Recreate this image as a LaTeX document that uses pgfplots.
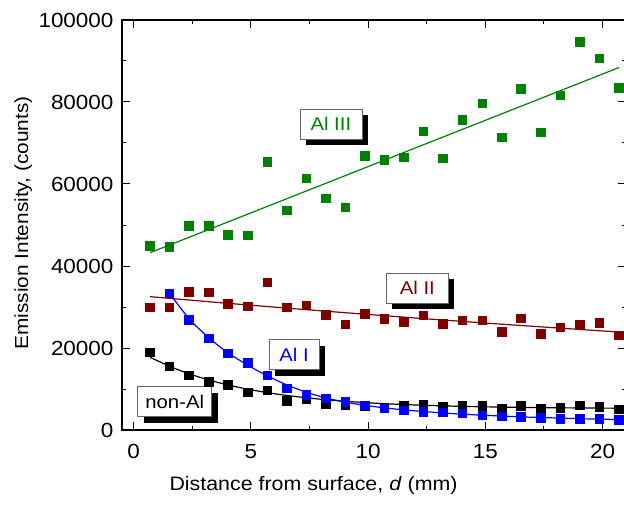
\documentclass[border=0pt]{standalone}
\usepackage{pgfplots}
\pgfplotsset{compat=1.18}
\usepackage{pgfplotstable}
\usepackage{fontspec}
\setmainfont{Liberation Sans}[FakeStretch=1.1]
\usetikzlibrary{shadows}

\definecolor{cgreen}{RGB}{0,128,0}
\definecolor{cred}{RGB}{128,0,0}
\definecolor{cblue}{RGB}{0,0,255}

% measured points
\pgfplotstableread{
x y
0.70 44880
1.53 44600
2.37 49750
3.20 49750
4.03 47560
4.87 47480
5.70 65360
6.53 53580
7.37 61300
8.20 56420
9.03 54220
9.87 66900
10.70 65850
11.53 66500
12.37 72760
13.20 66260
14.03 75600
14.87 79600
15.70 71300
16.53 83100
17.37 72600
18.20 81550
19.03 94630
19.87 90650
20.70 83400
}\alIII

\pgfplotstableread{
x y
0.70 29920
1.53 29920
2.37 33660
3.20 33500
4.03 30730
4.87 30160
5.70 35930
6.53 29840
7.37 30400
8.20 28050
9.03 25780
9.87 28290
10.70 27070
11.53 26340
12.37 27970
13.20 25850
14.03 26750
14.87 26750
15.70 23830
16.53 27150
17.37 23410
18.20 25040
19.03 25690
19.87 26100
20.70 23000
}\alII

\pgfplotstableread{
x y
1.53 33340
2.37 26830
3.20 22270
4.03 18700
4.87 16270
5.70 13340
6.53 10080
7.37 8540
8.20 7730
9.03 6900
9.87 6020
10.70 5290
11.53 4710
12.37 4390
13.20 4220
14.03 4070
14.87 3490
15.70 3250
16.53 3100
17.37 3000
18.20 2680
19.03 2680
19.87 2680
20.70 2440
}\alI

\pgfplotstableread{
x y
0.70 18950
1.53 15440
2.37 13340
3.20 11780
4.03 10980
4.87 9190
5.70 9590
6.53 7070
7.37 7560
8.20 6340
9.03 6020
9.87 5850
10.70 5500
11.53 5850
12.37 6170
13.20 5610
14.03 5850
14.87 5850
15.70 5290
16.53 5850
17.37 5200
18.20 5370
19.03 5930
19.87 5610
20.70 5040
}\nonAl

\begin{document}
\begin{tikzpicture}[
  lbl/.style={draw=black!60, fill=white, line width=0.6pt, font=\fontsize{18.5}{20}\selectfont,
    minimum height=30bp, inner xsep=2bp, inner ysep=0pt,
    drop shadow={shadow xshift=6bp, shadow yshift=-6bp, fill=black, opacity=1}}
]
\begin{axis}[
  name=ax,
  scale only axis,
  width=504bp, height=410bp,
  xmin=-0.5, xmax=21,
  ymin=0, ymax=100000,
  clip=false,
  axis line style={draw=none},
  xtick={0,5,10,15,20},
  minor xtick={2.5,7.5,12.5,17.5},
  ytick={0,20000,40000,60000,80000,100000},
  minor ytick={10000,30000,50000,70000,90000},
  tick align=inside,
  major tick length=8bp, minor tick length=4bp,
  every tick/.style={black, line width=1pt},
  scaled y ticks=false,
  /pgf/number format/assume math mode=true,
  yticklabel style={/pgf/number format/fixed, /pgf/number format/set thousands separator={}, xshift=-5bp},
  xticklabel style={yshift=-11bp},
  tick label style={font=\fontsize{20.5}{22}\selectfont},
  xlabel={Distance from surface, \textit{d} (mm)},
  ylabel={Emission Intensity, (counts)},
  xlabel style={font=\fontsize{19.5}{21}\selectfont, at={(axis description cs:0.38,-0.135)}, anchor=center},
  ylabel style={font=\fontsize{19}{21}\selectfont, at={(axis description cs:-0.196,0.505)}, anchor=center},
]
% fits
\addplot[cgreen, line width=1.2pt] coordinates {(0.7,43250) (20.7,88400)};
\addplot[cred, line width=1.2pt, smooth] coordinates {
 (0.7,32520) (2.7,31535) (4.7,30575) (6.7,29650) (8.7,28750) (10.7,27880)
 (12.7,27030) (14.7,26210) (16.7,25420) (18.7,24650) (20.7,23900)};
\addplot[black, line width=1.2pt, smooth] coordinates {
 (0.7,17730) (1.7,15130) (2.7,13070) (3.7,11440) (4.7,10140) (5.7,9117)
 (6.7,8304) (7.7,7660) (8.7,7150) (9.7,6745) (10.7,6424) (11.7,6170)
 (12.7,5969) (13.7,5809) (14.7,5683) (16.7,5503) (18.7,5390) (20.7,5320)};
\addplot[cblue, line width=1.2pt, smooth] coordinates {
 (1.53,33300) (2.37,27100) (3.20,22500) (4.03,18800) (4.87,15800) (5.70,13200)
 (6.53,11000) (7.37,9200) (8.20,7800) (9.03,6800) (9.87,6000) (10.70,5400)
 (11.53,4900) (12.37,4500) (13.20,4150) (14.03,3850) (14.87,3600) (15.70,3400)
 (16.53,3200) (17.37,3050) (18.20,2900) (19.03,2750) (19.87,2650) (20.70,2550)};
% points
\addplot[only marks, mark=square*, mark size=4.3bp, mark options={fill=cgreen, draw=cgreen, line width=0pt}] table {\alIII};
\addplot[only marks, mark=square*, mark size=4.3bp, mark options={fill=cred, draw=cred, line width=0pt}] table {\alII};
\addplot[only marks, mark=square*, mark size=4.3bp, mark options={fill=black, draw=black, line width=0pt}] table {\nonAl};
\addplot[only marks, mark=square*, mark size=4.3bp, mark options={fill=cblue, draw=cblue, line width=0pt}] table {\alI};
% labels
\node[lbl, text=cgreen, minimum width=62bp] at (axis cs:8.41,74630) {Al III};
\node[lbl, text=cred, minimum width=62bp] at (axis cs:12.1,34630) {Al II};
\node[lbl, text=cblue, minimum width=50bp] at (axis cs:6.84,18400) {Al I};
\node[lbl, text=black, minimum width=74bp] at (axis cs:1.75,6950) {non-Al};
\end{axis}
\draw[line width=1.2pt, line cap=rect] (ax.north east) -- (ax.north west) -- (ax.south west) -- (ax.south east);
\pgfresetboundingbox
\path[use as bounding box] ([xshift=-122bp,yshift=-75bp]ax.south west) rectangle ([xshift=-2bp,yshift=20bp]ax.north east);
\end{tikzpicture}
\end{document}
